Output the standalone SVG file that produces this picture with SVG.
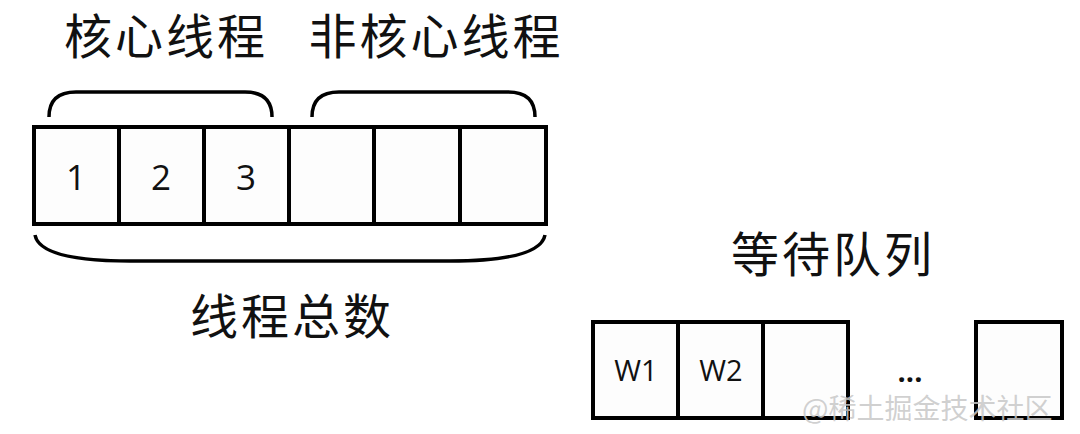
<svg xmlns="http://www.w3.org/2000/svg" width="1080" height="434" viewBox="0 0 1080 434">
<style>
.box{fill:#fdfdfd;stroke:#000;stroke-width:4}
.br{fill:none;stroke:#000;stroke-width:3.5}
.cn{font-family:"Noto Sans CJK SC","Noto Sans",sans-serif;font-size:48px;fill:#111;text-anchor:middle;letter-spacing:3px}
.num{font-family:"Open Sans","Noto Sans",sans-serif;font-size:35px;fill:#111;text-anchor:middle}
.w{font-family:"Open Sans","Noto Sans",sans-serif;font-size:29px;fill:#111;text-anchor:middle}
.wm{font-family:"Noto Sans CJK SC",sans-serif;font-size:28px;fill:#c8c8c8;fill-opacity:0.85}
</style>
<rect width="1080" height="434" fill="#fff"/>
<g id="labels">
<text class="cn" x="166" y="54">核心线程</text>
<text class="cn" x="436" y="54">非核心线程</text>
<text class="cn" x="292" y="334">线程总数</text>
<text class="cn" x="833" y="272">等待队列</text>
</g>
<g id="connectors">
<path class="br" d="M49,117 Q49,92 76,92 L245,92 Q272,92 272,117"/>
<path class="br" d="M312,117 Q312,92 339,92 L508,92 Q535,92 535,117"/>
<path class="br" d="M35,235 Q40,261 130,261 L450,261 Q540,261 545,235"/>
</g>
<g id="thread-pool">
<rect class="box" x="34" y="127" width="85" height="97"/>
<rect class="box" x="119" y="127" width="85" height="97"/>
<rect class="box" x="204" y="127" width="85" height="97"/>
<rect class="box" x="289" y="127" width="85" height="97"/>
<rect class="box" x="374" y="127" width="86" height="97"/>
<rect class="box" x="460" y="127" width="86" height="97"/>
<text class="num" x="76" y="190">1</text>
<text class="num" x="161" y="190">2</text>
<text class="num" x="246" y="190">3</text>
</g>
<g id="wait-queue">
<rect class="box" x="593" y="322" width="85" height="96"/>
<rect class="box" x="678" y="322" width="85" height="96"/>
<rect class="box" x="763" y="322" width="85" height="96"/>
<rect class="box" x="976" y="322" width="86" height="96"/>
<text class="w" x="636" y="381">W1</text>
<text class="w" x="721" y="381">W2</text>
<text class="w" x="910" y="382" style="font-weight:bold">...</text>
</g>
<text class="wm" x="802" y="419">@稀土掘金技术社区</text>
</svg>
